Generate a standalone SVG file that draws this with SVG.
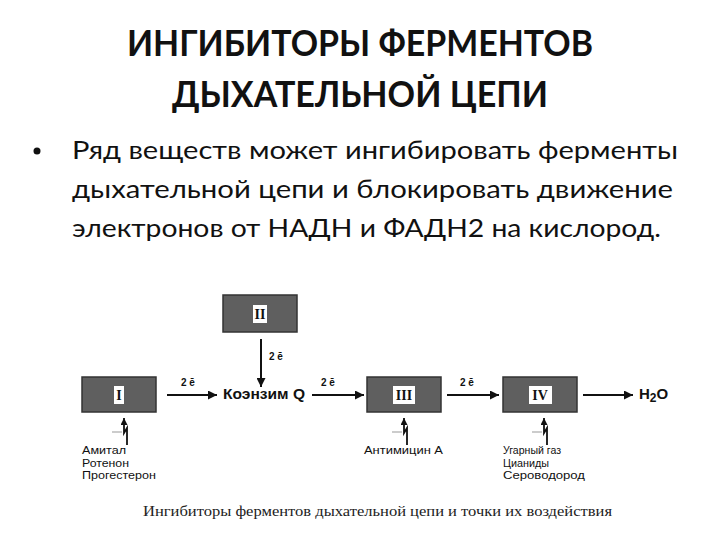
<svg xmlns="http://www.w3.org/2000/svg" width="720" height="540" viewBox="0 0 720 540">
<defs>
<style>
.title{font-family:"Lato","Open Sans","Liberation Sans",sans-serif;font-weight:bold;font-size:37px;fill:#111;text-anchor:middle}
.body{font-family:"Lato","Open Sans","Liberation Sans",sans-serif;font-size:25px;fill:#111}
.box{fill:#5f5f5f;stroke:#333;stroke-width:1.5}
.lab{fill:#fff}
.num{font-family:"Liberation Serif","Times New Roman",serif;font-weight:bold;font-size:14px;fill:#111;text-anchor:middle}
.e{font-family:"Liberation Sans",Arial,sans-serif;font-weight:bold;font-size:10px;fill:#111}
.sub{font-family:"Liberation Sans",Arial,sans-serif;font-weight:bold;font-size:14px;fill:#111}
.inh{font-family:"Liberation Sans",Arial,sans-serif;font-size:10.5px;fill:#111}
.cap{font-family:"Liberation Serif","Times New Roman",serif;font-size:14px;fill:#222}
.ln{stroke:#111;stroke-width:2;fill:none}
.zig{stroke:#111;stroke-width:1.8;fill:none}
.tick{stroke:#999;stroke-width:1}
</style>
<marker id="ah" viewBox="0 0 10 10" refX="10" refY="5" markerWidth="8" markerHeight="7" markerUnits="userSpaceOnUse" orient="auto"><path d="M0,0 L10,5 L0,10 z" fill="#111"/></marker>
<marker id="ahb" viewBox="0 0 10 10" refX="10" refY="5" markerWidth="10" markerHeight="9" markerUnits="userSpaceOnUse" orient="auto"><path d="M0,0 L10,5 L0,10 z" fill="#111"/></marker>
</defs>
<rect width="720" height="540" fill="#fff"/>
<g id="title">
<text class="title" x="360" y="56" textLength="466" lengthAdjust="spacingAndGlyphs">ИНГИБИТОРЫ ФЕРМЕНТОВ</text>
<text class="title" x="360" y="107" textLength="376" lengthAdjust="spacingAndGlyphs">ДЫХАТЕЛЬНОЙ ЦЕПИ</text>
</g>
<g id="bullet">
<circle cx="37" cy="151" r="3.5" fill="#111"/>
<text class="body" x="72" y="159" textLength="606" lengthAdjust="spacingAndGlyphs">Ряд веществ может ингибировать ферменты</text>
<text class="body" x="72" y="198" textLength="601" lengthAdjust="spacingAndGlyphs">дыхательной цепи и блокировать движение</text>
<text class="body" x="72" y="237" textLength="589" lengthAdjust="spacingAndGlyphs">электронов от НАДН и ФАДН2 на кислород.</text>
</g>
<g id="connectors">
<line class="ln" x1="167" y1="395" x2="217" y2="395" marker-end="url(#ahb)"/>
<line class="ln" x1="312" y1="395" x2="364" y2="395" marker-end="url(#ahb)"/>
<line class="ln" x1="447" y1="395" x2="499" y2="395" marker-end="url(#ahb)"/>
<line class="ln" x1="583" y1="395" x2="633" y2="395" marker-end="url(#ahb)"/>
<line class="ln" x1="261" y1="339" x2="261" y2="387" marker-end="url(#ahb)"/>
<text class="e" x="181" y="386">2 ē</text>
<text class="e" x="321" y="386">2 ē</text>
<text class="e" x="460" y="386">2 ē</text>
<text class="e" x="269" y="360">2 ē</text>
</g>
<g id="complex-II">
<rect class="box" x="223" y="295" width="74" height="37"/>
<rect class="lab" x="253" y="305" width="14" height="18"/>
<text class="num" x="260" y="319">II</text>
</g>
<g id="complex-I">
<rect class="box" x="82" y="377" width="74" height="35"/>
<rect class="lab" x="114" y="386" width="10" height="18"/>
<text class="num" x="119" y="400">I</text>
</g>
<g id="coenzyme-Q">
<text class="sub" x="223" y="399" textLength="82" lengthAdjust="spacingAndGlyphs">Коэнзим Q</text>
</g>
<g id="complex-III">
<rect class="box" x="367" y="377" width="74" height="35"/>
<rect class="lab" x="393" y="386" width="22" height="18"/>
<text class="num" x="404" y="400">III</text>
</g>
<g id="complex-IV">
<rect class="box" x="503" y="377" width="74" height="35"/>
<rect class="lab" x="529" y="386" width="23" height="18"/>
<text class="num" x="540" y="400">IV</text>
</g>
<g id="water">
<text class="sub" x="639" y="399" style="font-size:15px">H<tspan dy="3" style="font-size:12px">2</tspan><tspan dy="-3">O</tspan></text>
</g>
<g id="inhibitor-I">
<line class="tick" x1="112" y1="432" x2="122" y2="432"/>
<path class="zig" d="M127,445 L127,428 L124,433 L124,418" marker-end="url(#ah)"/>
<text class="inh" x="82" y="454" textLength="44" lengthAdjust="spacingAndGlyphs">Амитал</text>
<text class="inh" x="82" y="466.5" textLength="47" lengthAdjust="spacingAndGlyphs">Ротенон</text>
<text class="inh" x="82" y="479" textLength="74" lengthAdjust="spacingAndGlyphs">Прогестерон</text>
</g>
<g id="inhibitor-III">
<line class="tick" x1="392" y1="432" x2="402" y2="432"/>
<path class="zig" d="M407,445 L407,428 L404,433 L404,418" marker-end="url(#ah)"/>
<text class="inh" x="364" y="454" textLength="79" lengthAdjust="spacingAndGlyphs">Антимицин А</text>
</g>
<g id="inhibitor-IV">
<line class="tick" x1="532" y1="432" x2="542" y2="432"/>
<path class="zig" d="M547,445 L547,428 L544,433 L544,418" marker-end="url(#ah)"/>
<text class="inh" x="503" y="454" textLength="58" lengthAdjust="spacingAndGlyphs">Угарный газ</text>
<text class="inh" x="503" y="466.5" textLength="46" lengthAdjust="spacingAndGlyphs">Цианиды</text>
<text class="inh" x="503" y="479" textLength="82" lengthAdjust="spacingAndGlyphs">Сероводород</text>
</g>
<g id="caption">
<text class="cap" x="143" y="516" textLength="469" lengthAdjust="spacingAndGlyphs">Ингибиторы ферментов дыхательной цепи и точки их воздействия</text>
</g>
</svg>
